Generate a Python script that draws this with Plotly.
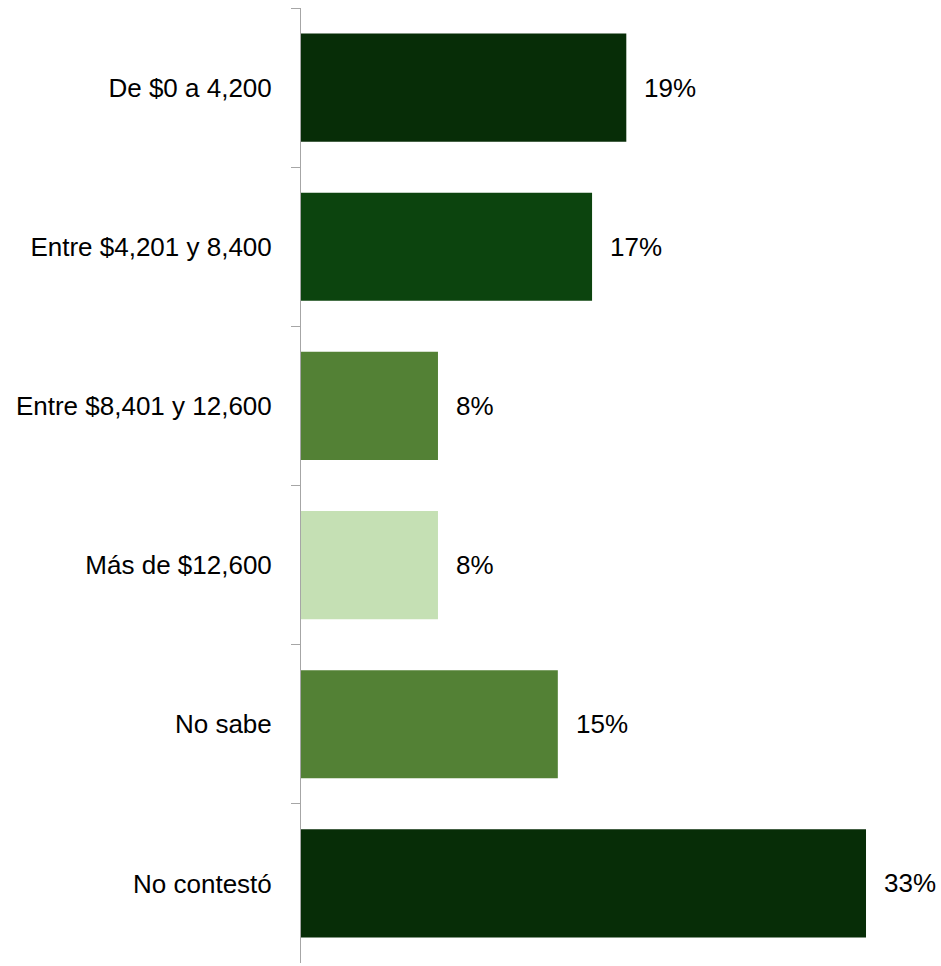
import plotly.graph_objects as go

categories = [
    "De $0 a 4,200",
    "Entre $4,201 y 8,400",
    "Entre $8,401 y 12,600",
    "Más de $12,600",
    "No sabe",
    "No contestó",
]
values = [19, 17, 8, 8, 15, 33]
labels = ["19%", "17%", "8%", "8%", "15%", "33%"]
colors = ["#072d07", "#0c440e", "#538135", "#c5e0b4", "#538135", "#072d07"]

FONT = "Liberation Sans Narrow, Arial Narrow, Liberation Sans, Arial, sans-serif"

fig = go.Figure(go.Bar(
    x=values,
    y=categories,
    orientation="h",
    marker_color=colors,
    marker_line_width=0,
    hoverinfo="x+y",
))

# value labels sit a little to the right of each bar end
for cat, val, lab in zip(categories, values, labels):
    fig.add_annotation(
        x=val, y=cat, text=lab,
        showarrow=False, xanchor="left", xshift=16,
        font=dict(family=FONT, size=26, color="#000000"),
    )

fig.update_layout(
    width=941,
    height=966,
    margin=dict(l=301, r=0, t=8, b=3),
    plot_bgcolor="white",
    paper_bgcolor="white",
    bargap=0.32,
    showlegend=False,
    font=dict(family=FONT, size=26, color="#000000"),
)
fig.update_xaxes(range=[0, 37.38], visible=False)
fig.update_yaxes(
    autorange="reversed",
    showline=True,
    linecolor="#a6a6a6",
    linewidth=1,
    ticks="outside",
    tickson="boundaries",
    ticklen=9,
    tickcolor="#a6a6a6",
    showgrid=False,
    ticklabelstandoff=23,
)

# drop the default body margin so the figure fills the window exactly
fig.write_html(
    "out.html",
    config={"displayModeBar": False},
    post_script="document.body.style.margin='0';document.body.style.overflow='hidden';",
)
